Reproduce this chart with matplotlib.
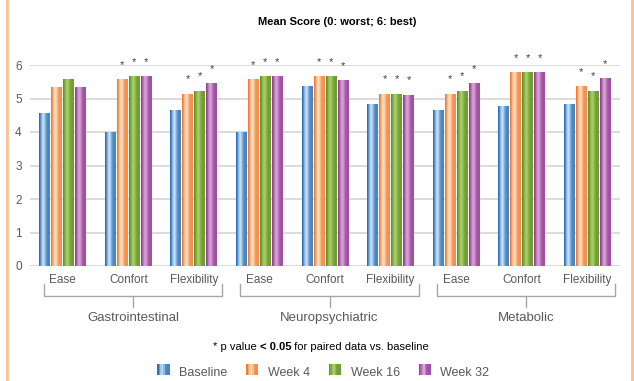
import matplotlib
matplotlib.use("Agg")
import matplotlib.pyplot as plt
import numpy as np
from matplotlib.colors import to_rgb
from matplotlib.patches import Rectangle
from matplotlib.transforms import blended_transform_factory
from matplotlib.legend_handler import HandlerBase

plt.rcParams['font.family'] = ['Liberation Sans', 'DejaVu Sans']

# data
groups = ["Gastrointestinal", "Neuropsychiatric", "Metabolic"]
items = ["Ease", "Confort", "Flexibility"]
series = ["Baseline", "Week 4", "Week 16", "Week 32"]

baseline = [4.55, 4.00, 4.65, 4.00, 5.35, 4.83, 4.65, 4.77, 4.83]
week4 = [5.33, 5.56, 5.13, 5.56, 5.65, 5.13, 5.13, 5.77, 5.35]
week16 = [5.56, 5.65, 5.22, 5.65, 5.65, 5.13, 5.22, 5.77, 5.22]
week32 = [5.33, 5.65, 5.44, 5.65, 5.53, 5.09, 5.44, 5.77, 5.59]
# significance vs baseline (week 4, 16, 32)
signif = [False, True, True, True, True, True, True, True, True]

values = [baseline, week4, week16, week32]
# (edge colour, highlight colour) for the shaded bars
shades = [("#1f66b0", "#c4e0f7"),
          ("#f07327", "#fde0c2"),
          ("#5f8c25", "#a7cf66"),
          ("#8e3591", "#d8a3d6")]


def gradient_rgb(dark, light, n=64):
    t = np.linspace(0, 1, n)
    f = np.exp(-((t - 0.4) / 0.22) ** 2)
    f = 0.25 + 0.75 * f
    f[t < 0.12] *= 0.3
    d = np.array(to_rgb(dark))
    l = np.array(to_rgb(light))
    return d[None, :] * (1 - f[:, None]) + l[None, :] * f[:, None]


fig = plt.figure(figsize=(6.34, 3.81), dpi=100)
ax = fig.add_axes([30 / 634, 115 / 381, 590 / 634, 201 / 381])

n = len(baseline)
x = np.arange(n)
pitch = 0.183
width = 0.165

for k, vals in enumerate(values):
    grad = gradient_rgb(*shades[k])[None, :, :]
    for i, v in enumerate(vals):
        x0 = x[i] + (k - 1.5) * pitch - width / 2
        ax.imshow(grad, extent=[x0, x0 + width, 0, v], aspect='auto',
                  interpolation='bilinear', zorder=3)
        if k > 0 and signif[i]:
            ax.text(x0 + width / 2, v + 0.45, "*", ha='center', va='center',
                    fontsize=8, color="#404040", zorder=4)

ax.set_xlim(-0.5, n - 0.5)
ax.set_ylim(0, 6)
ax.set_yticks(range(7))
ax.set_xticks(x)
ax.set_xticklabels(items * 3)
ax.tick_params(axis='both', length=0, colors="#595959", labelsize=8.5)
ax.tick_params(axis='x', pad=6)
ax.tick_params(axis='y', pad=6)
ax.grid(axis='y', color="#d9d9d9", lw=1.3, zorder=0)
for s in ax.spines.values():
    s.set_visible(False)

# group brackets below the category labels
tr = blended_transform_factory(ax.transData, fig.transFigure)
def fy(py):
    return (381 - py) / 381

for g, name in enumerate(groups):
    a, b = 3 * g - 0.29, 3 * g + 2.43
    c = (a + b) / 2
    ax.plot([a, a, b, b], [fy(284), fy(296), fy(296), fy(284)], color="#a6a6a6",
            lw=1, transform=tr, clip_on=False)
    ax.plot([c, c], [fy(296), fy(307)], color="#a6a6a6", lw=1,
            transform=tr, clip_on=False)
    ax.text(c, fy(318), name, ha='center', va='center', fontsize=9.5,
            color="#595959", transform=tr)

fig.text(337.5 / 634, fy(22), "Mean Score (0: worst; 6: best)", ha='center', va='center',
         fontsize=8, fontweight='bold')

# footnote, with the threshold in bold
t1 = fig.text(213 / 634, fy(347), "* p value ", ha='left', va='center', fontsize=8)
t2 = ax.annotate("< 0.05", xy=(1, 0), xycoords=t1, ha='left', va='bottom',
                 fontsize=8, fontweight='bold')
ax.annotate(" for paired data vs. baseline", xy=(1, 0), xycoords=t2,
            ha='left', va='bottom', fontsize=8)


class GradientHandler(HandlerBase):
    def __init__(self, dark, light):
        super().__init__()
        self.dark, self.light = dark, light

    def create_artists(self, legend, orig_handle, xd, yd, w, h, fontsize, trans):
        cols = gradient_rgb(self.dark, self.light, 8)
        arts = []
        for j, col in enumerate(cols):
            arts.append(Rectangle((xd + j * w / 8, yd), w / 8 + 0.3, h,
                                  facecolor=col, edgecolor='none', transform=trans))
        return arts


handles = [Rectangle((0, 0), 1, 1) for _ in series]
hmap = {h: GradientHandler(*shades[k]) for k, h in enumerate(handles)}
fig.legend(handles, series, handler_map=hmap, ncol=4, loc='center',
           bbox_to_anchor=(0.51, fy(373)), frameon=False, fontsize=9,
           labelcolor="#595959", handlelength=0.95, handleheight=1.0,
           columnspacing=1.5, handletextpad=0.8, borderpad=0)

# orange side rules
for px in (7, 632):
    fig.add_artist(plt.Line2D([px / 634, px / 634], [0, 1], color="#f9c193", lw=2))

fig.savefig("out.png", dpi=100)
